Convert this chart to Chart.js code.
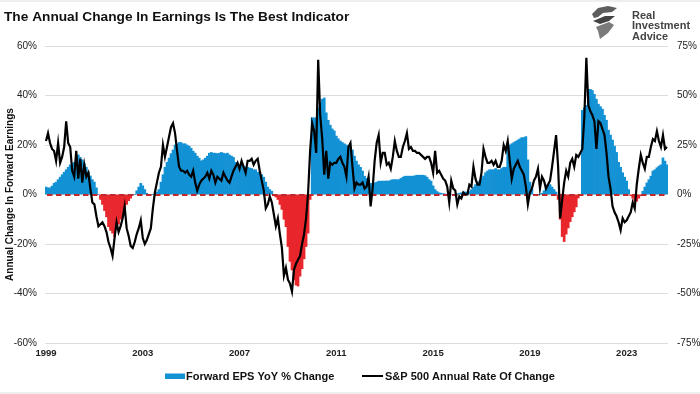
<!DOCTYPE html>
<html>
<head>
<meta charset="utf-8">
<title>The Annual Change In Earnings Is The Best Indicator</title>
<script src="https://cdn.jsdelivr.net/npm/chart.js@4.4.1/dist/chart.umd.min.js"></script>
<style>
  html, body { margin: 0; padding: 0; background: #fff; }
  #wrap { width: 700px; height: 394px; }
</style>
</head>
<body>
<div id="wrap"><canvas id="chart" width="700" height="394"></canvas></div>
<script>
// monthly categories, Jan 1999 .. Sep 2024
const firstYear = 1999;
const lastYear = 2024;
const lastMonthOfLastYear = 9;

// x-axis year labels shown
const yearTicks = ['1999', '2003', '2007', '2011', '2015', '2019', '2023'];

// Forward EPS YoY % change (left axis), one row per year
const epsYoY = [
  3, 2.7, 2.7, 3.4, 4.5, 5, 6, 7, 8, 9, 10, 11,                    // 1999
  12, 12.5, 13, 14, 16, 15, 14, 12.5, 11, 9, 7.5, 6,               // 2000
  5, 2.7, 0, -2, -4, -6.5, -9, -13, -14.5, -15.6, -17, -14,        // 2001
  -12, -10, -8, -7, -4, -2.5, -1.5, 0, 0, 1.5, 3, 4.5,             // 2002
  3.5, 2, 0.5, 0, 0, 0, 0, 1, 2, 5, 8, 11,                         // 2003
  13, 14.7, 16.5, 18, 20, 20.5, 21, 21, 20.5, 20.5, 20, 19.5,      // 2004
  18.7, 17.5, 16.7, 15.5, 14.7, 13.6, 14, 14.7, 15.5, 16.7, 17, 16.7, // 2005
  16.7, 16.5, 16.7, 17, 16.7, 16.5, 16.7, 16, 15.5, 15, 13, 12.5,  // 2006
  12, 12, 11.5, 11, 11, 10.7, 10.5, 10, 10, 9, 9, 8,               // 2007
  7, 5, 3, 2, 1.3, 0, -1, -2, -4, -6, -10, -13,                    // 2008
  -21, -27, -30.5, -34.5, -36.6, -37, -33, -30, -26, -21, -15.6, -2, // 2009
  31, 31, 31, 35, 37, 38.5, 39, 33, 30, 28, 26.5, 25.7,            // 2010
  23.6, 22.5, 21.6, 21, 20.5, 20, 19.6, 19, 18, 15.5, 13.5, 12,    // 2011
  11, 9.5, 7.4, 6.5, 5.4, 4.5, 3.4, 4.7, 5, 5.4, 5.4, 5.4,         // 2012
  5.4, 5.5, 5.4, 5.8, 6, 6, 6, 6, 6.5, 7, 7.4, 7.4,                // 2013
  7.4, 7.4, 7.4, 7.6, 7.8, 7.8, 7.8, 7.8, 7.6, 7, 6, 5.4,          // 2014
  3.5, 2, 1.2, 0.7, 0.5, 0.3, 0.2, 0, 0, 0, 0, 0,                  // 2015
  0.3, 0.5, 0.7, 1, 1, 1, 1.2, 2, 3, 4, 5, 5.4,                    // 2016
  6.5, 7.5, 8.8, 9.5, 10, 10, 10, 10.5, 10, 10, 10.5, 11,          // 2017
  11, 19.6, 20, 20.5, 21, 21.5, 22, 22.5, 23, 23, 23.4, 14,        // 2018
  5, 2, 0, 0, 0, 0, 0.5, 1.5, 3, 4, 4, 3,                          // 2019
  2, 1, -2, -10, -17, -19, -16, -13.5, -11, -9, -7, -5,            // 2020
  -1.4, 0, 34, 35, 36, 42.5, 42.5, 42, 40.5, 38.5, 36.5, 35.5,     // 2021
  34.5, 32, 30, 26, 24, 22, 19.5, 17, 13, 11, 8.8, 7,              // 2022
  5.4, 2, -0.5, -1.5, -2.7, -2.7, -1.5, -0.5, 1.3, 3, 4.7, 6,      // 2023
  7.4, 9.5, 10, 10.8, 11.5, 12, 14.8, 13.5, 12                     // 2024
];

// S&P 500 annual rate of change % (right axis)
const spxYoY = [
  27, 31, 26, 23, 22, 17, 26, 16, 19, 24, 37, 26,                 // 1999
  24, 12, 9, 22, 8, 18, 6, 15, 9, 11, 3, -4,                       // 2000
  -5, -11, -16, -15, -14, -16, -19, -24, -27, -31, -22, -14,       // 2001
  -19, -16, -12, -6, -17, -21, -26, -27, -24, -20, -17, -13,       // 2002
  -22, -25, -23, -20, -17, -7, 1, 6, 11, 14, 25, 19,               // 2003
  24, 29, 34, 36, 31, 22, 14, 12, 12, 11, 12, 10,                  // 2004
  9, 12, 6, 2, 5, 7, 8, 9, 11, 8, 12, 10,                          // 2005
  6, 9, 8, 7, 11, 9, 7, 6, 9, 12, 14, 16,                          // 2006
  13, 17, 14, 11, 17, 17, 18, 15, 17, 18, 12, 7,                   // 2007
  2, -7, -5, -1, -4, -10, -16, -12, -20, -27, -41, -37,            // 2008
  -43, -45, -49, -38, -35, -33, -31, -25, -20, -12, 1, 22,         // 2009
  36, 32, 21, 68, 40, 28, 10, 22, 8, 16, 15, 16,                   // 2010
  16, 18, 19, 16, 14, 9, 24, 26, 14, 3, 6, 5,                      // 2011
  5, 6, 3, 4, 9, -6, 3, 17, 26, 30, 16, 21,                        // 2012
  21, 15, 16, 13, 19, 27, 22, 19, 19, 24, 27, 31,                  // 2013
  23, 24, 22, 22, 21, 21, 20, 19, 18, 19, 19, 16,                  // 2014
  11, 22, 11, 12, 10, 8, 7, 4, -4, 7, 3, 2,                        // 2015
  -5, -1, -2, 1, 0, 0, 5, 4, 14, 8, 5, 5,                          // 2016
  11, 23, 19, 16, 16, 17, 15, 17, 14, 14, 17, 25,                  // 2017
  22, 27, 17, 8, 13, 15, 17, 14, 12, 10, 4, -5,                    // 2018
  1, 3, 7, 9, 13, 3, 9, 7, 3, 5, 7, 14,                            // 2019
  22, 30, 14, -12, -3, 6, 12, 9, 16, 18, 14, 20,                   // 2020
  19, 21, 23, 39, 69, 45, 42, 40, 37, 23, 37, 36,                  // 2021
  33, 30, 21, 9, 3, -6, -9, -11, -14, -18, -12, -14,               // 2022
  -13, -11, -9, -4, -7, 5, 13, 20, 16, 13, 19, 19,                 // 2023
  24, 28, 27, 32, 27, 24, 30, 23, 24                               // 2024
];

const BLUE = '#1391d5';
const RED = '#e8262b';
const ZERO_RED = '#c0282d';
const FONT = '"Liberation Sans", Arial, Helvetica, sans-serif';

const months = [];
for (let y = firstYear; y <= lastYear; y++) {
  for (let m = 1; m <= 12; m++) {
    if (y === lastYear && m > lastMonthOfLastYear) break;
    months.push(y + '-' + String(m).padStart(2, '0'));
  }
}

Chart.defaults.font.family = FONT;
Chart.defaults.color = '#222';

// title, logo, legend and the dashed zero line
const decorations = {
  id: 'decorations',
  beforeDatasetDraw(chart, args) {
    if (args.index !== 1) return;
    const { ctx, chartArea, scales } = chart;
    const y0 = Math.round(scales.y.getPixelForValue(0));
    ctx.save();
    ctx.strokeStyle = ZERO_RED;
    ctx.lineWidth = 2;
    ctx.setLineDash([5.5, 3.5]);
    ctx.beginPath();
    ctx.moveTo(chartArea.left + 2, y0);
    ctx.lineTo(chartArea.right, y0);
    ctx.stroke();
    ctx.restore();
  },
  afterDraw(chart) {
    const ctx = chart.ctx;
    ctx.save();

    // faint page edges
    ctx.fillStyle = '#eeeeee';
    ctx.fillRect(0, 0, 700, 2);
    ctx.fillRect(0, 392, 700, 2);

    // title
    ctx.fillStyle = '#111';
    ctx.font = 'bold 13.7px ' + FONT;
    ctx.textBaseline = 'alphabetic';
    ctx.fillText('The Annual Change In Earnings Is The Best Indicator', 4, 21);

    // logo mark
    ctx.fillStyle = '#5e5e5e';
    ctx.beginPath();
    ctx.moveTo(592, 14); ctx.lineTo(598, 8); ctx.lineTo(608, 6); ctx.lineTo(617, 8);
    ctx.lineTo(612, 12); ctx.lineTo(603, 13); ctx.lineTo(598, 17); ctx.lineTo(594, 18);
    ctx.closePath(); ctx.fill();
    ctx.fillStyle = '#444';
    ctx.beginPath();
    ctx.moveTo(593, 21); ctx.lineTo(605, 16); ctx.lineTo(615, 16); ctx.lineTo(609, 21);
    ctx.lineTo(600, 24); ctx.closePath(); ctx.fill();
    ctx.fillStyle = '#7a7a7a';
    ctx.beginPath();
    ctx.moveTo(596, 27); ctx.lineTo(609, 22); ctx.lineTo(614, 25); ctx.lineTo(608, 33);
    ctx.lineTo(600, 39); ctx.lineTo(598, 31); ctx.closePath(); ctx.fill();

    ctx.fillStyle = '#444';
    ctx.font = 'bold 11px ' + FONT;
    ctx.fillText('Real', 632, 18.5);
    ctx.fillText('Investment', 632, 29);
    ctx.fillText('Advice', 632, 39.5);

    // legend
    ctx.textBaseline = 'middle';
    ctx.fillStyle = BLUE;
    ctx.fillRect(165, 373.5, 20, 5.5);
    ctx.fillStyle = '#111';
    ctx.fillText('Forward EPS YoY % Change', 186, 376.5);
    ctx.strokeStyle = '#000';
    ctx.lineWidth = 2;
    ctx.beginPath();
    ctx.moveTo(362, 376); ctx.lineTo(383, 376);
    ctx.stroke();
    ctx.fillText('S&P 500 Annual Rate Of Change', 385, 376.5);

    ctx.restore();
  }
};

new Chart(document.getElementById('chart'), {
  data: {
    labels: months,
    datasets: [
      {
        type: 'bar',
        label: 'Forward EPS YoY % Change',
        data: epsYoY,
        yAxisID: 'y',
        backgroundColor: c => (c.raw < 0 ? RED : BLUE),
        borderWidth: 0,
        barPercentage: 1,
        categoryPercentage: 1,
        order: 2
      },
      {
        type: 'line',
        label: 'S&P 500 Annual Rate Of Change',
        data: spxYoY,
        yAxisID: 'y2',
        borderColor: '#000',
        borderWidth: 2.2,
        pointRadius: 0,
        tension: 0,
        order: 1
      }
    ]
  },
  options: {
    responsive: false,
    animation: false,
    devicePixelRatio: 1,
    layout: { padding: { top: 46, bottom: 31, left: 0, right: 0 } },
    plugins: {
      legend: { display: false },
      tooltip: { enabled: false }
    },
    scales: {
      x: {
        grid: { display: false, drawTicks: false },
        border: { display: false },
        ticks: {
          autoSkip: false,
          maxRotation: 0,
          padding: 5,
          font: { size: 9.5, weight: 'bold' },
          color: '#222',
          callback: (v, i) => {
            const [yy, mm] = months[i].split('-');
            return mm === '01' && yearTicks.includes(yy) ? yy : null;
          }
        },
        afterFit: s => { s.height = 20; }
      },
      y: {
        position: 'left',
        min: -60,
        max: 60,
        ticks: { stepSize: 20, padding: 8, font: { size: 10 }, callback: v => v + '%' },
        grid: { color: '#dcdcdc', drawTicks: false },
        border: { display: false },
        title: {
          display: true,
          text: 'Annual Change In Forward Earnings',
          font: { size: 10, weight: 'bold' },
          color: '#111'
        },
        afterFit: s => { s.width = 45; }
      },
      y2: {
        position: 'right',
        min: -75,
        max: 75,
        ticks: { stepSize: 25, padding: 9, font: { size: 10 }, callback: v => v + '%' },
        grid: { display: false, drawTicks: false },
        border: { display: false },
        afterFit: s => { s.width = 32; }
      }
    }
  },
  plugins: [decorations]
});
</script>
</body>
</html>
